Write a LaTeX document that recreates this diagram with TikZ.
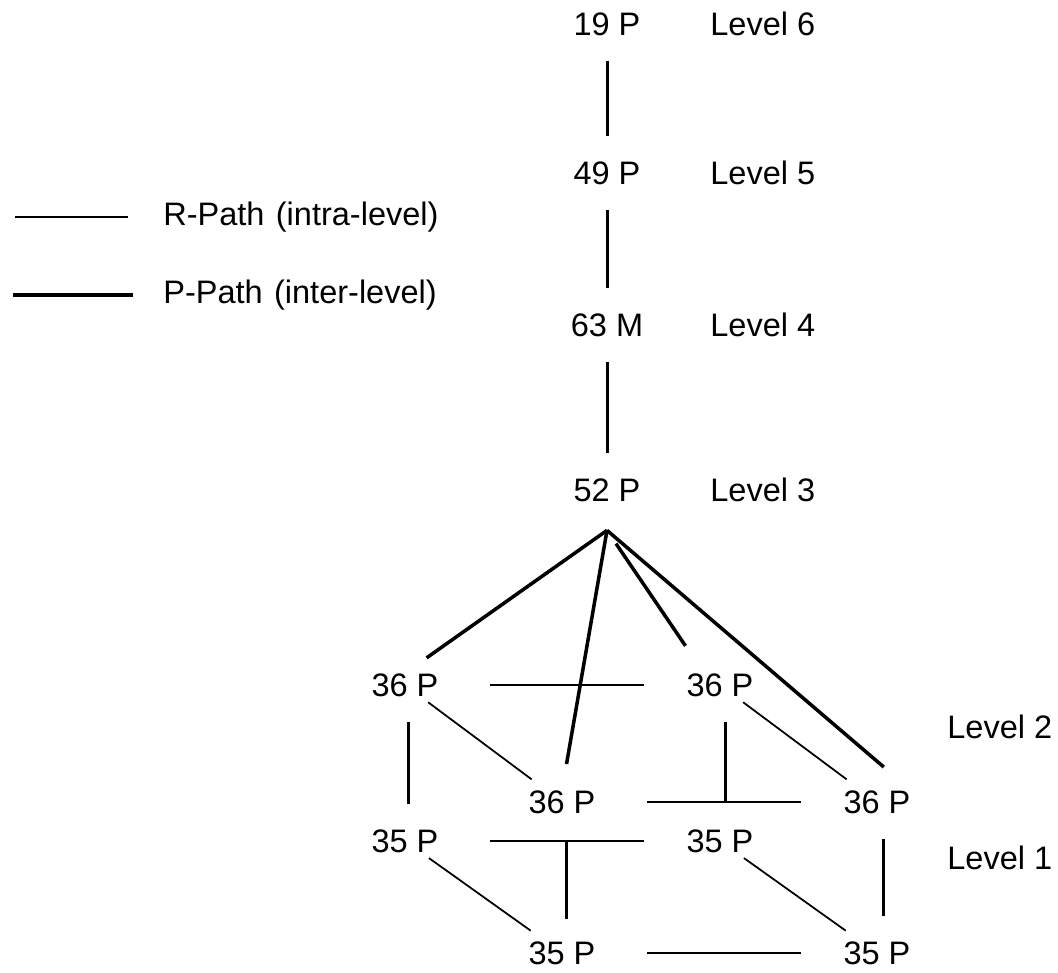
\documentclass[tikz,border=0pt]{standalone}
\usepackage{fontspec}
\setmainfont{Liberation Sans}
\begin{document}
\begin{tikzpicture}[x=0.2mm,y=-0.2mm,
    lbl/.style={inner sep=0pt,font=\fontsize{18.5}{20}\selectfont},
    rpath/.style={line width=1pt},
    ppath/.style={line width=2pt},
    hline/.style={rpath,shorten <=10.2mm,shorten >=8.4mm},
    diag/.style={rpath,shorten <=1.8mm,shorten >=3.6mm},
    vline/.style={ppath,line width=1.7pt,shorten <=5mm,shorten >=5mm}]
\useasboundingbox (0,0) rectangle (1058,973);

% legend
\node[lbl,anchor=west] (rtxt) at (163,217) {R-Path\hspace{0.35em}(intra-level)};
\node[lbl,anchor=west] (ptxt) at (163,295) {P-Path\hspace{0.35em}(inter-level)};
\coordinate (rbeg) at (15,217);
\coordinate (pbeg) at (13,295);
\draw[rpath,shorten >=7mm] (rbeg) -- (rtxt);
\draw[ppath,shorten >=6mm] (pbeg) -- (ptxt);

% levels 6 to 3
\foreach \nm/\txt/\yy/\lv in {n19/19 P/24/6, n49/49 P/173/5, n63/63 M/325/4, n52/52 P/490/3}{
    \node[lbl] (\nm) at (607,\yy) {\txt};
    \node[lbl,anchor=west] (lv\lv) at (710,\yy) {Level \lv};
}
\draw[vline] (n19) -- (n49);
\draw[vline] (n49) -- (n63);
\draw[vline] (n63) -- (n52);

% levels 2 and 1
\foreach \nm/\xx/\yy/\txt in {b36l/405/685/36 P, b36r/720/685/36 P, f36l/562/802/36 P, f36r/877/802/36 P,
    b35l/405/841/35 P, b35r/720/841/35 P, f35l/562/953/35 P, f35r/877/953/35 P}{
    \node[lbl] (\nm) at (\xx,\yy) {\txt};
}
\node[lbl,anchor=west] (lv2) at (947,727) {Level 2};
\node[lbl,anchor=west] (lv1) at (947,858) {Level 1};

% P-paths down from 52 P
\coordinate (apex) at ([yshift=-5.7mm]n52.south);
\draw[ppath,shorten >=5.3mm] (apex) -- (b36l.north);
\draw[ppath,shorten >=5.3mm] (apex) -- (f36l.north);
\draw[ppath,shorten <=3.2mm,shorten >=6.6mm] (apex) -- ([xshift=-3.2mm]b36r.north);
\draw[ppath,shorten >=7.1mm] (apex) -- (f36r.north east);

% R-paths
\draw[hline] (b36l) -- (b36r);
\draw[hline] (f36l) -- (f36r);
\draw[hline] (b35l) -- (b35r);
\draw[hline] (f35l) -- (f35r);
\draw[diag] (b36l) -- (f36l);
\draw[diag] (b36r) -- (f36r);
\draw[diag] (b35l) -- (f35l);
\draw[diag] (b35r) -- (f35r);

% P-paths level 2 to level 1
\draw[vline] ([xshift=0.6mm]b36l.south) -- ([xshift=0.6mm]b35l.north);
\draw[vline] ([xshift=1.2mm]f36r.south) -- ([xshift=1.2mm]f35r.north);
\coordinate (hidr) at ([xshift=1mm]b36r |- f36r);
\draw[ppath,line width=1.7pt,shorten <=5mm] ([xshift=1mm]b36r.south) -- (hidr);
\coordinate (hidl) at ([xshift=0.8mm]f35l |- b35r);
\draw[ppath,line width=1.7pt,shorten >=4.5mm] (hidl) -- ([xshift=0.8mm]f35l.north);
\end{tikzpicture}
\end{document}
